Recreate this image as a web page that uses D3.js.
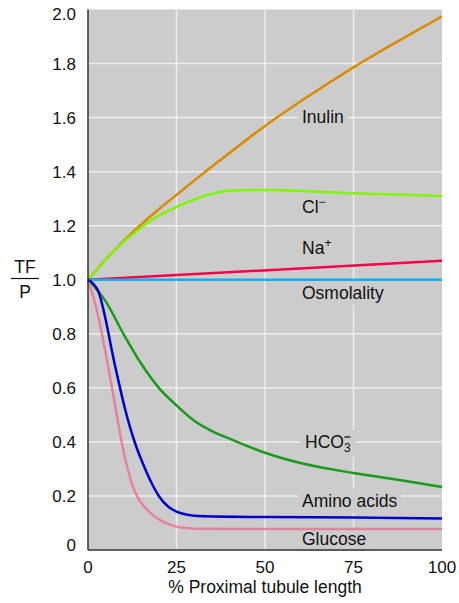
<!DOCTYPE html>
<html lang="en">
<head>
    <meta charset="UTF-8">
    <title>TF/P along the proximal tubule</title>
    <style>
        body {
            margin: 0;
            background-color: #ffffff;
        }
        svg text {
            font-family: "Liberation Sans", Arial, Helvetica, sans-serif;
            fill: #111;
        }
    </style>
</head>
<body>
    <div id="container"></div>

    <script src="https://d3js.org/d3.v7.min.js"></script>
    <script>
        // values (x = % of tubule length, y = TF/P)
        const xTicks = [0, 25, 50, 75, 100];
        const yTicks = [0, 0.2, 0.4, 0.6, 0.8, 1.0, 1.2, 1.4, 1.6, 1.8, 2.0];

        const inulinX = [0, 6, 13.3, 20, 25, 37, 50, 62, 75, 88, 100];
        const inulinY = [1.0, 1.089, 1.184, 1.261, 1.314, 1.439, 1.569, 1.677, 1.786, 1.886, 1.975];

        const chlorideX = [0, 5, 8.5, 13.3, 18, 24.6, 30, 35, 40.7, 50, 75, 100];
        const chlorideY = [1.0, 1.074, 1.122, 1.175, 1.222, 1.267, 1.297, 1.318, 1.33, 1.332, 1.32, 1.31];

        const sodiumX = [0, 100];
        const sodiumY = [1.0, 1.07];

        const osmoX = [0, 100];
        const osmoY = [1.0, 1.0];

        const bicarbX = [0, 5, 10, 15, 20, 25, 30, 35, 40, 50, 60, 75, 88, 100];
        const bicarbY = [1.0, 0.92, 0.80, 0.69, 0.60, 0.535, 0.478, 0.44, 0.412, 0.36, 0.322, 0.285, 0.259, 0.233];

        const aminoX = [0, 2.8, 7.9, 10.5, 13.3, 15.5, 18, 20, 22.7, 25, 27.4, 30, 33, 50, 75, 100];
        const aminoY = [1.0, 0.96, 0.666, 0.52, 0.395, 0.32, 0.247, 0.2, 0.16, 0.142, 0.132, 0.127, 0.125, 0.122, 0.12, 0.117];

        const glucoseX = [0, 2, 7.6, 9.5, 13.3, 15, 17, 19, 21.5, 24, 27, 30, 50, 100];
        const glucoseY = [1.0, 0.913, 0.54, 0.4, 0.215, 0.175, 0.145, 0.122, 0.103, 0.09, 0.082, 0.079, 0.078, 0.078];

        const width = 459;
        const height = 603;
        const plotLeft = 88, plotRight = 442, plotTop = 9.5, plotBottom = 550;

        const x = d3.scaleLinear().domain([0, 100]).range([plotLeft, plotRight]);
        const y = d3.scaleLinear().domain([0, 2]).range([plotBottom, plotTop]);

        const svg = d3.select("#container")
            .append("svg")
            .attr("width", width)
            .attr("height", height);

        // plot background
        svg.append("rect")
            .attr("x", plotLeft)
            .attr("y", plotTop)
            .attr("width", plotRight - plotLeft)
            .attr("height", plotBottom - plotTop)
            .attr("fill", "#cccccc");

        // grid
        svg.append("g")
            .selectAll("line")
            .data(yTicks.filter(d => d > 0 && d < 2))
            .join("line")
            .attr("x1", plotLeft).attr("x2", plotRight)
            .attr("y1", d => y(d)).attr("y2", d => y(d))
            .attr("stroke", "#eeeeee")
            .attr("stroke-width", 1.5);

        svg.append("g")
            .selectAll("line")
            .data(xTicks.filter(d => d > 0 && d < 100))
            .join("line")
            .attr("x1", d => x(d)).attr("x2", d => x(d))
            .attr("y1", plotTop).attr("y2", plotBottom)
            .attr("stroke", "#eeeeee")
            .attr("stroke-width", 1.5);

        // label patches go under the lines, label text above them
        const patchLayer = svg.append("g");
        const lineLayer = svg.append("g");
        const labels = svg.append("g").attr("font-size", 17.5);

        const series = [
            { xs: inulinX, ys: inulinY, color: "#dc8a00" },
            { xs: chlorideX, ys: chlorideY, color: "#7ff500" },
            { xs: sodiumX, ys: sodiumY, color: "#f5004a" },
            { xs: osmoX, ys: osmoY, color: "#12aef0" },
            { xs: bicarbX, ys: bicarbY, color: "#1a9a1a" },
            { xs: glucoseX, ys: glucoseY, color: "#e8829a" },
            { xs: aminoX, ys: aminoY, color: "#0000cc" }
        ];

        const line = d3.line()
            .x(d => x(d[0]))
            .y(d => y(d[1]))
            .curve(d3.curveMonotoneX);

        series.forEach(s => {
            lineLayer.append("path")
                .datum(s.xs.map((v, i) => [v, s.ys[i]]))
                .attr("d", line)
                .attr("fill", "none")
                .attr("stroke", s.color)
                .attr("stroke-width", 2.5);
        });

        function addLabel(px, py, build) {
            const t = labels.append("text").attr("x", px).attr("y", py);
            build(t);
            const b = t.node().getBBox();
            patchLayer.append("rect")
                .attr("fill", "#cccccc")
                .attr("x", b.x - 4).attr("y", b.y - 2)
                .attr("width", b.width + 8).attr("height", b.height + 4);
        }

        addLabel(302, 123, t => t.text("Inulin"));
        addLabel(302, 213, t => {
            t.append("tspan").text("Cl");
            t.append("tspan").attr("font-size", 12).attr("dy", -7).text("−");
        });
        addLabel(302, 254, t => {
            t.append("tspan").text("Na");
            t.append("tspan").attr("font-size", 12).attr("dy", -7).text("+");
        });
        addLabel(302, 299, t => t.text("Osmolality"));
        addLabel(305, 448, t => {
            t.append("tspan").text("HCO");
            const sub = t.append("tspan").attr("font-size", 12).attr("dy", 4).text("3");
            // charge sign stacked above the subscript, drawn as a short stroke
            const sb = sub.node().getBBox();
            labels.append("line")
                .attr("x1", sb.x + 0.5).attr("x2", sb.x + sb.width - 0.5)
                .attr("y1", 437).attr("y2", 437)
                .attr("stroke", "#111").attr("stroke-width", 1.3);
        });
        addLabel(302, 507, t => t.text("Amino acids"));
        addLabel(302, 545, t => t.text("Glucose"));

        // axes lines
        svg.append("line")
            .attr("x1", plotLeft).attr("x2", plotLeft)
            .attr("y1", plotTop).attr("y2", plotBottom)
            .attr("stroke", "#333").attr("stroke-width", 1.5);
        svg.append("line")
            .attr("x1", plotLeft).attr("x2", plotRight)
            .attr("y1", plotBottom).attr("y2", plotBottom)
            .attr("stroke", "#333").attr("stroke-width", 1.5);

        // tick labels
        svg.append("g")
            .attr("font-size", 17)
            .attr("text-anchor", "end")
            .selectAll("text")
            .data(yTicks)
            .join("text")
            .attr("x", 76)
            .attr("y", d => Math.min(Math.max(y(d), 14), 545))
            .attr("dy", "0.35em")
            .text(d => d === 0 ? "0" : d.toFixed(1));

        svg.append("g")
            .attr("font-size", 17)
            .attr("text-anchor", "middle")
            .selectAll("text")
            .data(xTicks)
            .join("text")
            .attr("x", d => x(d))
            .attr("y", 573)
            .text(d => d);

        svg.append("text")
            .attr("x", (plotLeft + plotRight) / 2)
            .attr("y", 593)
            .attr("text-anchor", "middle")
            .attr("font-size", 17.5)
            .text("% Proximal tubule length");

        // TF / P
        svg.append("text")
            .attr("x", 25).attr("y", 273)
            .attr("text-anchor", "middle")
            .attr("font-size", 17.5)
            .text("TF");
        svg.append("line")
            .attr("x1", 11).attr("x2", 39)
            .attr("y1", 278.5).attr("y2", 278.5)
            .attr("stroke", "#111").attr("stroke-width", 1.2);
        svg.append("text")
            .attr("x", 25).attr("y", 298)
            .attr("text-anchor", "middle")
            .attr("font-size", 17.5)
            .text("P");
    </script>
</body>
</html>
